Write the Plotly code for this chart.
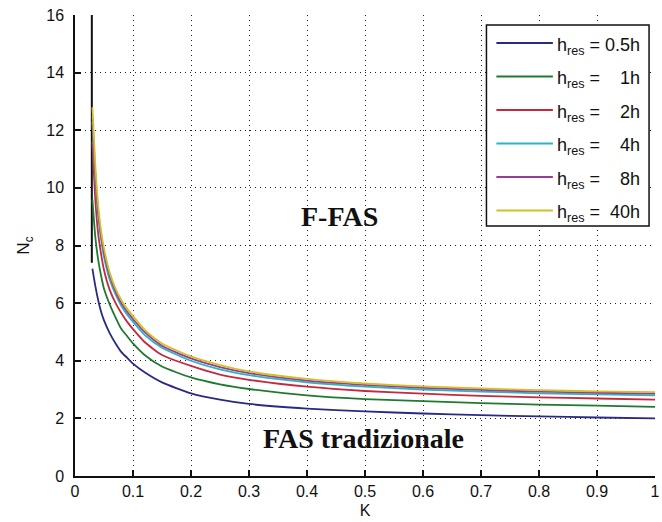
import plotly.graph_objects as go

# Sampled gain K values shared by all curves
k_vals = [0.03, 0.035, 0.04, 0.045, 0.05, 0.06, 0.07, 0.08, 0.09, 0.1, 0.12,
          0.15, 0.2, 0.25, 0.3, 0.4, 0.5, 0.6, 0.7, 0.8, 0.9, 1.0]

# Critical N_c for each residence time
n_05h = [7.2, 6.6, 6.1, 5.7, 5.4, 4.95, 4.6, 4.3, 4.1, 3.9, 3.6,
         3.25, 2.87, 2.65, 2.5, 2.34, 2.24, 2.17, 2.11, 2.07, 2.03, 2.0]
n_1h = [9.6, 8.3, 7.5, 6.95, 6.5, 5.95, 5.5, 5.1, 4.85, 4.6, 4.2,
        3.8, 3.42, 3.18, 3.02, 2.8, 2.67, 2.6, 2.53, 2.48, 2.44, 2.4]
n_2h = [11.6, 9.6, 8.4, 7.7, 7.15, 6.45, 6.0, 5.65, 5.35, 5.1, 4.65,
        4.2, 3.82, 3.52, 3.34, 3.1, 2.95, 2.86, 2.78, 2.73, 2.69, 2.65]
n_4h = [12.3, 10.3, 9.0, 8.2, 7.6, 6.8, 6.3, 5.9, 5.6, 5.35, 4.9,
        4.45, 4.0, 3.7, 3.5, 3.25, 3.1, 3.0, 2.93, 2.87, 2.83, 2.8]
n_8h = [12.5, 10.5, 9.2, 8.35, 7.75, 6.95, 6.4, 6.0, 5.7, 5.45, 5.0,
        4.52, 4.08, 3.78, 3.57, 3.31, 3.16, 3.06, 2.99, 2.93, 2.89, 2.86]
n_40h = [12.8, 10.8, 9.4, 8.5, 7.9, 7.05, 6.5, 6.1, 5.8, 5.55, 5.08,
         4.6, 4.15, 3.85, 3.63, 3.37, 3.21, 3.11, 3.04, 2.98, 2.94, 2.91]

# Steep branch near the singular gain
branch_k = [0.029, 0.029]
branch_n = [16.0, 7.4]

series_labels = ["0.5h", "\u2007\u20081h", "\u2007\u20082h", "\u2007\u20084h",
                 "\u2007\u20088h", "\u200840h"]
series_values = [n_05h, n_1h, n_2h, n_4h, n_8h, n_40h]
series_colors = ["#2a2a84", "#1f7a30", "#c8283c", "#2ab4c4", "#9a3c96", "#d2c02a"]

x_ticks = [0, 0.1, 0.2, 0.3, 0.4, 0.5, 0.6, 0.7, 0.8, 0.9, 1]
x_tick_text = ["0", "0.1", "0.2", "0.3", "0.4", "0.5", "0.6", "0.7", "0.8", "0.9", "1"]
y_ticks = [0, 2, 4, 6, 8, 10, 12, 14, 16]

W, H = 662, 522
M_L, M_R, M_T, M_B = 75, 2, 15, 46
PW, PH = W - M_L - M_R, H - M_T - M_B


def px_x(p):
    """Pixel column -> paper x."""
    return (p - M_L) / PW


def px_y(p):
    """Pixel row -> paper y."""
    return (H - M_B - p) / PH


fig = go.Figure()

fig.add_trace(go.Scatter(x=branch_k, y=branch_n, mode="lines",
                         line=dict(color="#111111", width=2),
                         showlegend=False, hoverinfo="skip"))

for label, vals, col in zip(series_labels, series_values, series_colors):
    fig.add_trace(go.Scatter(
        x=k_vals, y=vals, mode="lines",
        line=dict(color=col, width=1.8, shape="spline", smoothing=0.6),
        name="h<sub>res</sub> = " + label, showlegend=False,
    ))

fig.add_annotation(x=0.456, y=9.0, text="<b>F-FAS</b>", showarrow=False,
                   font=dict(family="Liberation Serif", size=28, color="#111111"))
fig.add_annotation(x=0.497, y=1.3, text="<b>FAS tradizionale</b>", showarrow=False,
                   font=dict(family="Liberation Serif", size=28, color="#111111"))

# Legend box with line samples and labels
box_l, box_r, box_t, box_b = 490, 654, 25, 226
fig.add_shape(type="rect", xref="paper", yref="paper",
              x0=px_x(box_l), x1=px_x(box_r), y0=px_y(box_b), y1=px_y(box_t),
              line=dict(color="#111111", width=1.5), fillcolor="white", layer="above")
row_y = [43, 76.5, 110, 143.5, 177, 210.5]
for ry, label, col in zip(row_y, series_labels, series_colors):
    fig.add_shape(type="line", xref="paper", yref="paper",
                  x0=px_x(500), x1=px_x(557), y0=px_y(ry), y1=px_y(ry),
                  line=dict(color=col, width=1.8), layer="above")
    fig.add_annotation(xref="paper", yref="paper", x=px_x(559), y=px_y(ry + 3),
                       xanchor="left", yanchor="middle", showarrow=False,
                       text="h<sub>res</sub> = " + label,
                       font=dict(family="Liberation Sans", size=18, color="#111111"))

axis_common = dict(
    showline=True, linecolor="#111111", linewidth=1.5,
    ticks="inside", ticklen=6, tickwidth=1.5, tickcolor="#111111",
    showgrid=True, gridcolor="#222222", gridwidth=1, griddash="1px,4px",
    zeroline=False, mirror=False,
    tickfont=dict(family="Liberation Sans", size=16, color="#111111"),
)

fig.update_xaxes(range=[0, 1], tickvals=x_ticks, ticktext=x_tick_text,
                 ticklabeloverflow="allow",
                 title=dict(text="K", standoff=6,
                            font=dict(family="Liberation Sans", size=16, color="#111111")),
                 **axis_common)
fig.update_yaxes(range=[0, 16], tickvals=y_ticks, ticklabelstandoff=6,
                 title=dict(text="N<sub>c</sub>", standoff=12,
                            font=dict(family="Liberation Sans", size=17, color="#111111")),
                 **axis_common)

fig.update_layout(
    width=W, height=H,
    margin=dict(l=M_L, r=M_R, t=M_T, b=M_B),
    plot_bgcolor="white", paper_bgcolor="white",
    showlegend=False,
)

fig.write_html("out.html")
